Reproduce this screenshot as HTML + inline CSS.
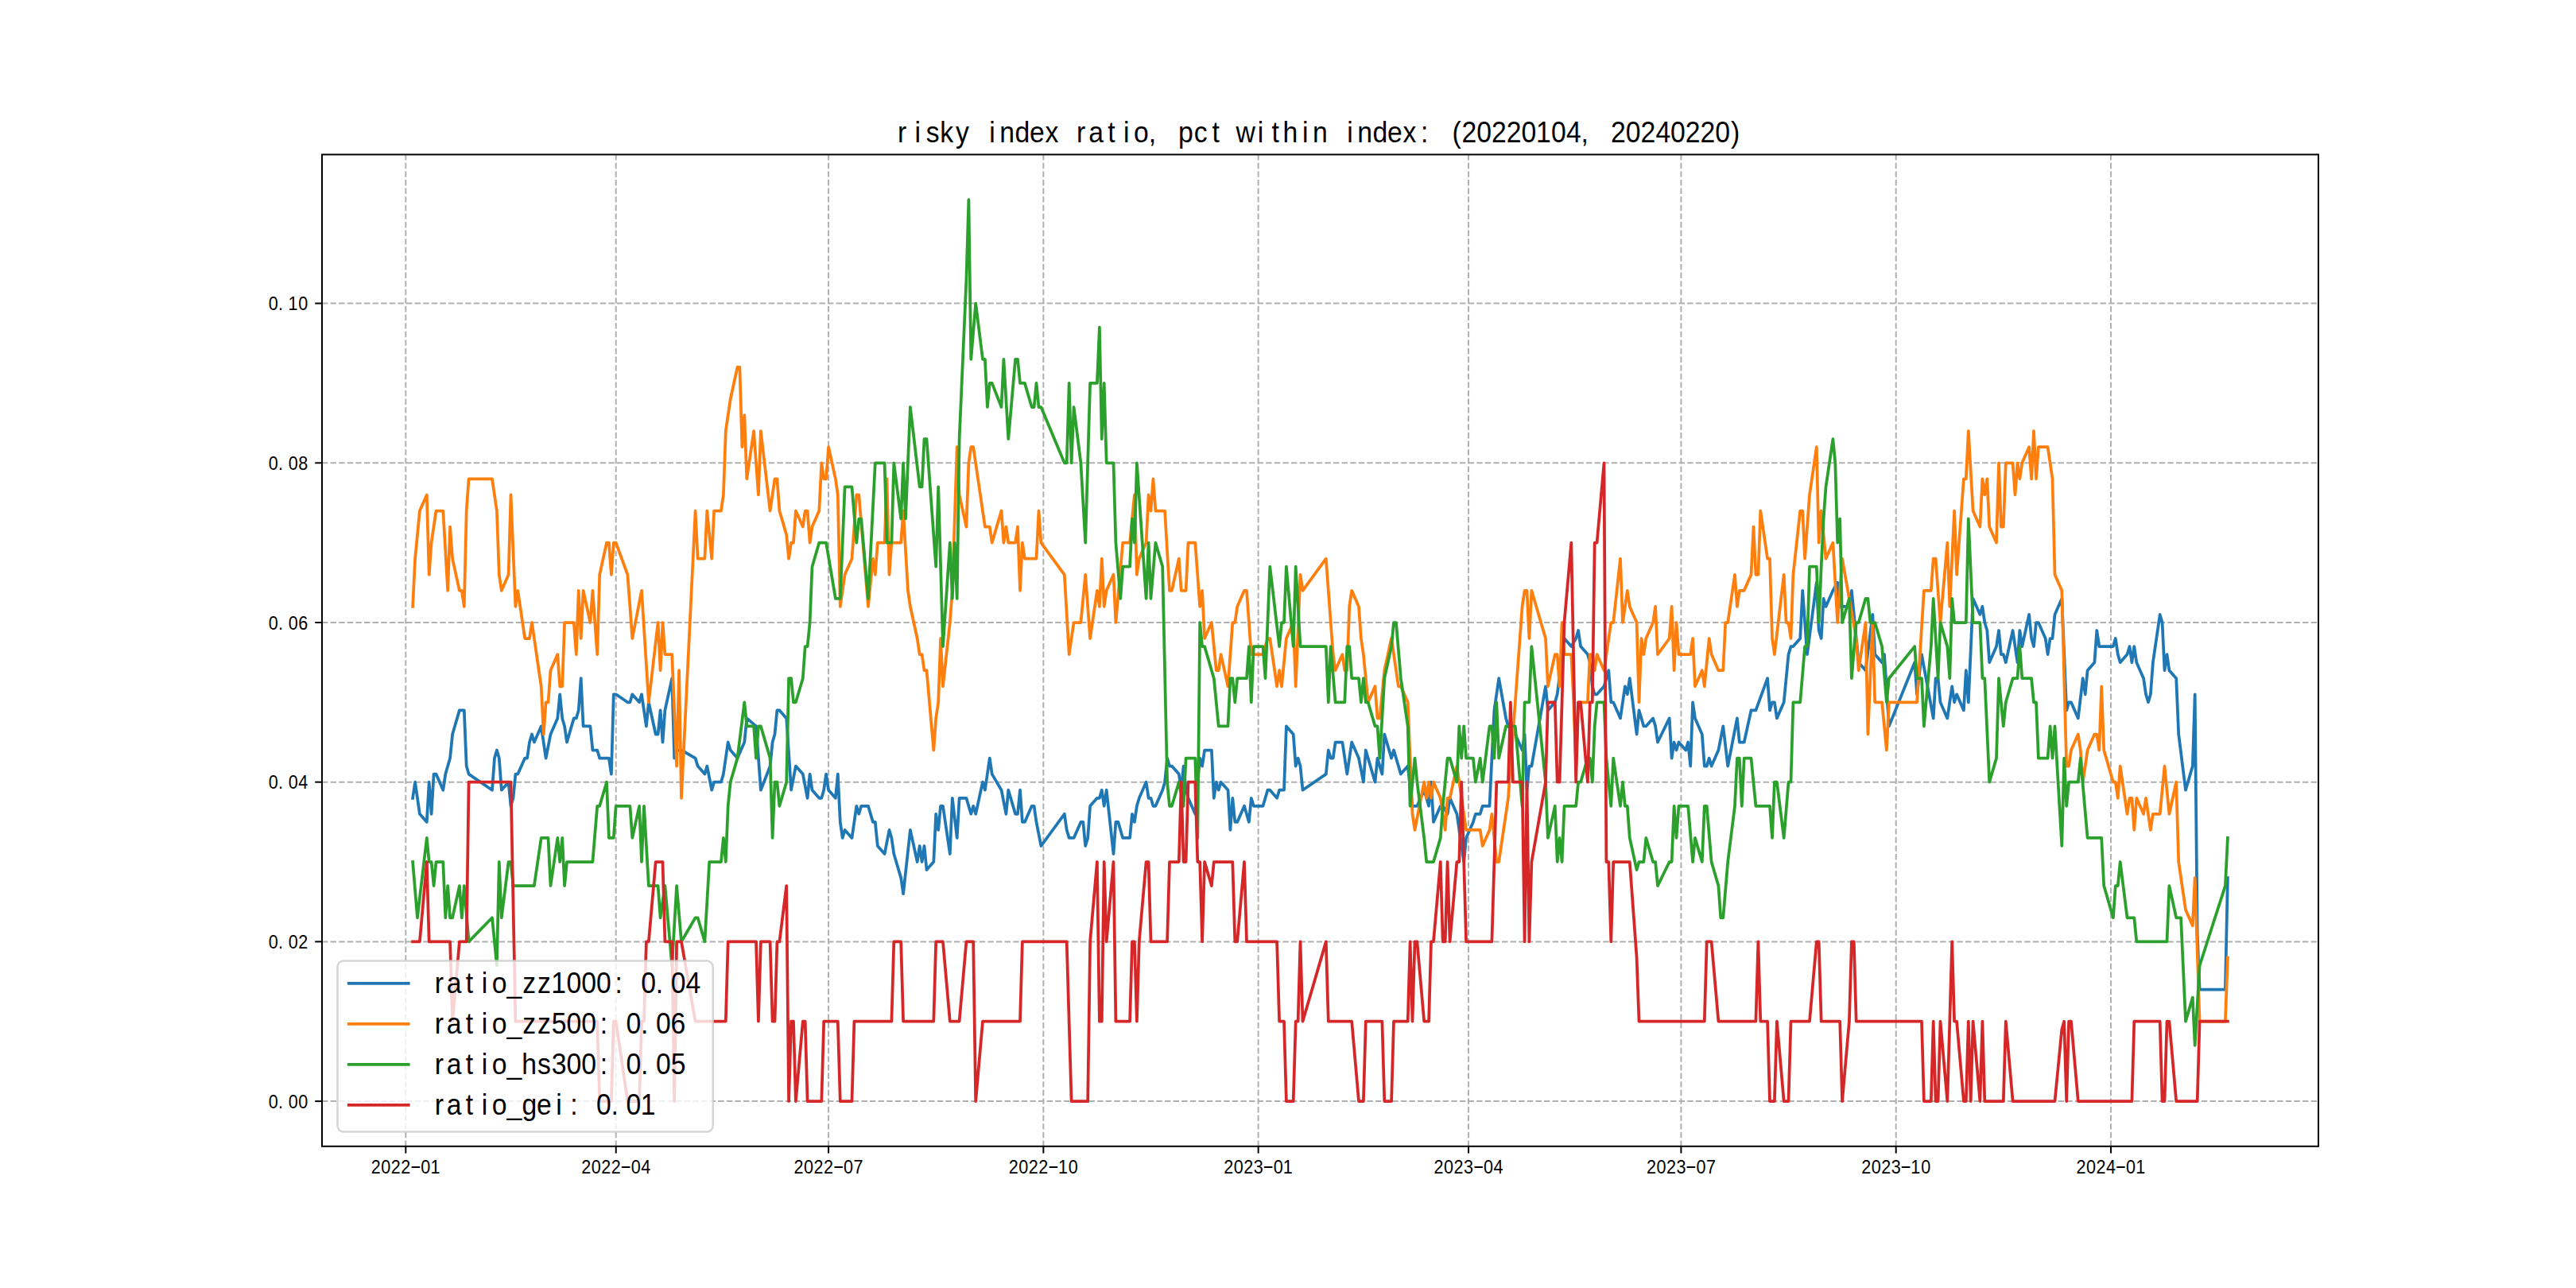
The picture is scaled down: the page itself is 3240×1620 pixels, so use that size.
<!DOCTYPE html>
<html lang="en"><head><meta charset="utf-8"><title>risky index ratio</title>
<style>html,body{margin:0;padding:0;background:#fff}body{width:3240px;height:1620px;overflow:hidden}svg{display:block;font-family:'Liberation Sans', 'WenQuanYi Zen Hei', sans-serif}</style></head><body>
<svg width="3240" height="1620" viewBox="0 0 3240 1620">
<rect x="0" y="0" width="3240" height="1620" fill="#fff"/>
<clipPath id="ax"><rect x="405.0" y="194.4" width="2511.0" height="1247.4"/></clipPath>
<g stroke="#b0b0b0" stroke-width="2" stroke-dasharray="7.4 3.2" fill="none">
<path d="M510.32 1441.80V194.40"/>
<path d="M774.73 1441.80V194.40"/>
<path d="M1042.08 1441.80V194.40"/>
<path d="M1312.36 1441.80V194.40"/>
<path d="M1582.65 1441.80V194.40"/>
<path d="M1847.05 1441.80V194.40"/>
<path d="M2114.40 1441.80V194.40"/>
<path d="M2384.69 1441.80V194.40"/>
<path d="M2654.97 1441.80V194.40"/>
<path d="M405.00 1385.10H2916.00"/>
<path d="M405.00 1184.39H2916.00"/>
<path d="M405.00 983.68H2916.00"/>
<path d="M405.00 782.98H2916.00"/>
<path d="M405.00 582.27H2916.00"/>
<path d="M405.00 381.56H2916.00"/>
</g>
<g clip-path="url(#ax)" fill="none" stroke-width="3.75" stroke-linejoin="round" stroke-linecap="square">
<polyline stroke="#1f77b4" points="519.1,1003.8 522.1,983.7 527.9,1023.8 536.8,1033.9 539.7,983.7 542.6,1023.8 545.6,973.6 548.5,973.6 557.3,993.7 560.3,973.6 566.1,953.6 569.1,923.5 577.9,893.4 583.8,893.4 586.7,963.6 589.6,973.6 619.0,993.7 622.0,953.6 624.9,943.5 627.8,953.6 630.8,993.7 639.6,983.7 642.5,1013.8 645.5,1003.8 648.4,973.6 651.3,973.6 660.2,953.6 663.1,953.6 666.0,933.5 669.0,923.5 671.9,933.5 680.7,913.4 686.6,953.6 692.5,923.5 701.3,903.4 704.2,873.3 707.2,903.4 710.1,913.4 713.0,933.5 721.8,903.4 724.8,903.4 727.7,893.4 730.7,853.2 733.6,913.4 742.4,913.4 745.4,943.5 751.2,943.5 754.2,953.6 765.9,953.6 768.9,973.6 771.8,873.3 774.7,873.3 789.4,883.3 792.4,883.3 795.3,873.3 804.1,883.3 807.0,873.3 812.9,913.4 815.9,883.3 824.7,923.5 827.6,923.5 830.6,893.4 833.5,933.5 836.4,893.4 845.2,853.2 848.2,953.6 851.1,943.5 857.0,943.5 874.6,953.6 877.6,963.6 886.4,973.6 889.3,963.6 895.2,993.7 898.1,983.7 906.9,983.7 909.9,973.6 915.7,933.5 918.7,943.5 927.5,953.6 936.3,933.5 939.3,903.4 951.0,913.4 956.9,993.7 968.6,963.6 971.6,933.5 974.5,923.5 977.4,893.4 980.4,893.4 989.2,903.4 995.1,993.7 1000.9,963.6 1009.8,973.6 1015.6,1003.8 1018.6,973.6 1021.5,993.7 1030.3,1003.8 1033.3,1003.8 1036.2,993.7 1039.1,973.6 1042.1,993.7 1050.9,1003.8 1053.8,973.6 1056.8,1033.9 1059.7,1053.9 1062.6,1043.9 1071.5,1053.9 1077.3,1013.8 1080.3,1023.8 1083.2,1013.8 1092.0,1013.8 1097.9,1033.9 1100.8,1033.9 1103.8,1064.0 1112.6,1074.0 1118.5,1043.9 1121.4,1053.9 1124.3,1074.0 1133.2,1104.1 1136.1,1124.2 1144.9,1043.9 1153.7,1084.0 1156.7,1064.0 1159.6,1084.0 1162.5,1064.0 1165.5,1094.1 1174.3,1084.0 1177.2,1023.8 1180.2,1043.9 1183.1,1013.8 1186.0,1013.8 1194.8,1074.0 1197.8,1003.8 1203.7,1053.9 1206.6,1003.8 1215.4,1003.8 1221.3,1023.8 1224.2,1013.8 1227.2,1023.8 1236.0,983.7 1238.9,993.7 1244.8,953.6 1247.7,973.6 1259.5,993.7 1265.4,1023.8 1268.3,993.7 1277.1,1023.8 1280.0,1023.8 1283.0,993.7 1285.9,1033.9 1288.9,1033.9 1297.7,1013.8 1300.6,1013.8 1303.5,1033.9 1309.4,1064.0 1338.8,1023.8 1341.7,1043.9 1344.7,1053.9 1350.6,1053.9 1359.4,1033.9 1362.3,1033.9 1365.2,1064.0 1368.2,1053.9 1371.1,1013.8 1379.9,1003.8 1382.9,1003.8 1385.8,993.7 1388.7,1013.8 1391.7,993.7 1400.5,1074.0 1403.4,1033.9 1406.4,1033.9 1412.2,1053.9 1421.1,1053.9 1424.0,1023.8 1426.9,1033.9 1429.9,1013.8 1432.8,1003.8 1441.6,983.7 1444.6,1003.8 1447.5,1003.8 1450.4,1013.8 1453.4,1013.8 1462.2,993.7 1465.1,983.7 1468.1,953.6 1471.0,963.6 1473.9,963.6 1482.8,973.6 1485.7,993.7 1488.6,963.6 1491.6,993.7 1494.5,1003.8 1503.3,1023.8 1506.3,983.7 1509.2,953.6 1512.1,963.6 1515.1,943.5 1523.9,943.5 1526.8,1003.8 1529.8,983.7 1532.7,993.7 1535.6,983.7 1544.5,993.7 1547.4,1043.9 1550.3,1003.8 1553.3,1033.9 1556.2,1033.9 1565.0,1013.8 1570.9,1033.9 1573.8,1003.8 1576.8,1013.8 1588.5,1013.8 1594.4,993.7 1597.3,993.7 1606.1,1003.8 1609.1,993.7 1615.0,993.7 1617.9,913.4 1626.7,923.5 1629.7,963.6 1632.6,953.6 1635.5,963.6 1638.5,993.7 1667.8,973.6 1670.8,943.5 1673.7,953.6 1676.7,953.6 1679.6,933.5 1688.4,933.5 1694.3,973.6 1700.2,933.5 1709.0,953.6 1714.9,983.7 1717.8,943.5 1729.5,983.7 1732.5,953.6 1738.4,973.6 1741.3,923.5 1750.1,953.6 1753.0,943.5 1761.9,973.6 1770.7,963.6 1776.5,1013.8 1782.4,1013.8 1791.2,993.7 1797.1,1013.8 1800.0,983.7 1803.0,1033.9 1811.8,1013.8 1814.7,1013.8 1820.6,1023.8 1823.6,1003.8 1832.4,1023.8 1841.2,1084.0 1844.1,1053.9 1852.9,1033.9 1855.9,1023.8 1861.7,1023.8 1864.7,1013.8 1873.5,1013.8 1876.4,953.6 1879.4,893.4 1882.3,873.3 1885.2,853.2 1894.1,903.4 1897.0,913.4 1905.8,923.5 1914.6,943.5 1917.6,923.5 1920.5,993.7 1923.4,963.6 1926.4,963.6 1944.0,863.3 1946.9,893.4 1955.8,883.3 1958.7,873.3 1967.5,803.0 1976.3,813.1 1982.2,803.0 1985.1,793.0 1988.1,813.1 1996.9,823.1 1999.8,833.2 2002.8,863.3 2005.7,873.3 2008.6,873.3 2017.5,863.3 2020.4,853.2 2023.3,843.2 2026.3,883.3 2029.2,883.3 2038.0,903.4 2043.9,863.3 2046.8,873.3 2049.8,853.2 2058.6,923.5 2061.5,893.4 2067.4,913.4 2070.3,913.4 2079.1,903.4 2082.1,913.4 2085.0,933.5 2099.7,903.4 2102.6,953.6 2105.6,933.5 2108.5,943.5 2111.5,933.5 2120.3,943.5 2123.2,933.5 2126.2,963.6 2129.1,883.3 2132.0,903.4 2140.8,923.5 2143.8,963.6 2146.7,963.6 2149.7,953.6 2152.6,963.6 2161.4,943.5 2167.3,913.4 2173.2,963.6 2184.9,903.4 2187.8,933.5 2193.7,933.5 2202.5,893.4 2208.4,893.4 2223.1,853.2 2226.0,893.4 2229.0,883.3 2231.9,883.3 2234.9,903.4 2243.7,883.3 2249.5,823.1 2252.5,813.1 2255.4,813.1 2264.2,803.0 2267.2,742.8 2273.0,823.1 2284.8,732.8 2287.7,793.0 2290.7,803.0 2293.6,752.9 2296.5,762.9 2305.4,742.8 2311.2,732.8 2314.2,762.9 2325.9,762.9 2328.9,742.8 2337.7,833.2 2346.5,843.2 2355.3,772.9 2358.2,823.1 2367.1,833.2 2370.0,823.1 2375.9,913.4 2408.2,833.2 2411.1,873.3 2417.0,823.1 2431.7,903.4 2434.6,853.2 2437.6,853.2 2440.5,883.3 2449.3,903.4 2455.2,863.3 2458.1,883.3 2461.1,873.3 2469.9,893.4 2472.8,843.2 2475.8,883.3 2481.6,752.9 2490.4,772.9 2493.4,762.9 2496.3,783.0 2499.3,793.0 2502.2,833.2 2511.0,813.1 2514.0,793.0 2516.9,823.1 2519.8,823.1 2522.8,833.2 2531.6,793.0 2537.5,833.2 2540.4,793.0 2543.3,813.1 2552.1,772.9 2555.1,803.0 2558.0,813.1 2561.0,783.0 2563.9,783.0 2572.7,803.0 2575.6,823.1 2578.6,803.0 2581.5,803.0 2584.5,772.9 2593.3,752.9 2599.2,893.4 2602.1,883.3 2605.0,883.3 2613.8,903.4 2619.7,853.2 2622.7,873.3 2625.6,843.2 2634.4,833.2 2637.3,793.0 2640.3,813.1 2657.9,813.1 2660.8,803.0 2663.8,823.1 2666.7,833.2 2675.5,823.1 2678.5,813.1 2681.4,833.2 2684.3,813.1 2687.3,833.2 2696.1,853.2 2699.0,873.3 2702.0,883.3 2704.9,873.3 2707.9,833.2 2716.7,772.9 2719.6,783.0 2722.5,843.2 2725.5,823.1 2728.4,843.2 2737.2,853.2 2740.2,923.5 2749.0,993.7 2757.8,963.6 2760.7,873.3 2763.7,1174.4 2766.6,1244.6 2798.9,1244.6 2801.9,1104.1"/>
<polyline stroke="#ff7f0e" points="519.1,762.9 522.1,702.7 527.9,642.5 536.8,622.4 539.7,722.8 542.6,682.6 548.5,642.5 557.3,642.5 563.2,742.8 566.1,662.6 569.1,702.7 577.9,742.8 580.8,742.8 583.8,762.9 586.7,642.5 589.6,602.3 619.0,602.3 624.9,642.5 627.8,722.8 630.8,742.8 639.6,722.8 642.5,622.4 648.4,762.9 651.3,742.8 660.2,803.0 666.0,803.0 669.0,783.0 680.7,863.3 683.7,923.5 686.6,883.3 689.5,883.3 692.5,843.2 701.3,823.1 704.2,863.3 707.2,863.3 710.1,783.0 721.8,783.0 724.8,823.1 727.7,742.8 730.7,803.0 733.6,742.8 742.4,783.0 745.4,742.8 751.2,823.1 754.2,722.8 763.0,682.6 765.9,682.6 768.9,722.8 771.8,682.6 774.7,682.6 789.4,722.8 795.3,803.0 807.0,742.8 815.9,883.3 827.6,783.0 830.6,843.2 833.5,783.0 836.4,823.1 845.2,823.1 851.1,963.6 854.1,843.2 857.0,1003.8 874.6,642.5 877.6,702.7 886.4,702.7 889.3,642.5 895.2,702.7 898.1,642.5 906.9,642.5 909.9,622.4 912.8,542.1 918.7,502.0 927.5,461.8 930.4,461.8 933.4,562.2 936.3,522.1 939.3,602.3 948.1,542.1 953.9,622.4 956.9,542.1 968.6,642.5 974.5,602.3 977.4,602.3 980.4,642.5 989.2,672.6 992.1,702.7 995.1,682.6 998.0,682.6 1000.9,642.5 1009.8,662.6 1012.7,642.5 1015.6,642.5 1018.6,682.6 1021.5,662.6 1030.3,642.5 1033.3,582.3 1036.2,602.3 1039.1,602.3 1042.1,562.2 1050.9,602.3 1053.8,622.4 1056.8,762.9 1062.6,722.8 1071.5,702.7 1077.3,622.4 1080.3,622.4 1092.0,762.9 1097.9,702.7 1100.8,722.8 1103.8,682.6 1112.6,682.6 1115.5,602.3 1118.5,722.8 1121.4,682.6 1133.2,682.6 1136.1,642.5 1142.0,742.8 1144.9,762.9 1153.7,803.0 1156.7,823.1 1159.6,823.1 1162.5,843.2 1165.5,843.2 1174.3,943.5 1177.2,903.4 1180.2,883.3 1183.1,803.0 1186.0,863.3 1194.8,783.0 1197.8,742.8 1203.7,562.2 1206.6,622.4 1215.4,662.6 1218.4,582.3 1221.3,562.2 1224.2,562.2 1238.9,662.6 1244.8,662.6 1247.7,682.6 1259.5,642.5 1262.4,682.6 1265.4,662.6 1268.3,682.6 1277.1,682.6 1280.0,662.6 1283.0,742.8 1285.9,682.6 1288.9,702.7 1303.5,702.7 1306.5,642.5 1309.4,682.6 1338.8,722.8 1344.7,823.1 1350.6,783.0 1359.4,783.0 1365.2,722.8 1371.1,803.0 1379.9,742.8 1382.9,762.9 1385.8,702.7 1388.7,762.9 1391.7,742.8 1400.5,722.8 1403.4,783.0 1412.2,682.6 1421.1,682.6 1426.9,622.4 1429.9,722.8 1432.8,702.7 1441.6,682.6 1444.6,622.4 1447.5,642.5 1450.4,602.3 1453.4,642.5 1465.1,642.5 1471.0,742.8 1473.9,742.8 1482.8,702.7 1485.7,742.8 1491.6,742.8 1494.5,682.6 1503.3,682.6 1509.2,762.9 1512.1,742.8 1515.1,803.0 1523.9,783.0 1529.8,843.2 1532.7,843.2 1535.6,823.1 1544.5,863.3 1550.3,783.0 1553.3,783.0 1556.2,762.9 1565.0,742.8 1568.0,742.8 1573.8,823.1 1588.5,823.1 1594.4,803.0 1597.3,803.0 1606.1,863.3 1609.1,843.2 1612.0,863.3 1617.9,803.0 1626.7,783.0 1629.7,863.3 1635.5,722.8 1638.5,742.8 1667.8,702.7 1670.8,742.8 1676.7,823.1 1679.6,843.2 1688.4,823.1 1691.3,843.2 1694.3,843.2 1697.2,762.9 1700.2,742.8 1709.0,762.9 1711.9,803.0 1714.9,823.1 1720.7,883.3 1729.5,863.3 1732.5,903.4 1735.4,903.4 1741.3,843.2 1750.1,803.0 1758.9,863.3 1761.9,863.3 1770.7,883.3 1776.5,1023.8 1779.5,1043.9 1791.2,983.7 1794.2,1003.8 1797.1,983.7 1800.0,1003.8 1803.0,983.7 1811.8,1003.8 1817.7,1043.9 1820.6,1003.8 1823.6,1003.8 1832.4,963.6 1841.2,1023.8 1844.1,1043.9 1861.7,1043.9 1864.7,1064.0 1873.5,1043.9 1876.4,1023.8 1882.3,1084.0 1885.2,1084.0 1894.1,1023.8 1897.0,1003.8 1899.9,963.6 1902.9,923.5 1905.8,883.3 1914.6,762.9 1917.6,742.8 1920.5,742.8 1923.4,803.0 1926.4,742.8 1944.0,803.0 1946.9,863.3 1955.8,823.1 1958.7,823.1 1961.6,863.3 1964.6,783.0 1967.5,823.1 1976.3,823.1 1979.3,883.3 1982.2,963.6 1985.1,883.3 1996.9,883.3 1999.8,823.1 2002.8,823.1 2005.7,843.2 2008.6,823.1 2017.5,843.2 2026.3,783.0 2029.2,783.0 2038.0,702.7 2041.0,783.0 2046.8,742.8 2049.8,762.9 2058.6,783.0 2061.5,883.3 2064.5,803.0 2067.4,823.1 2070.3,803.0 2079.1,783.0 2082.1,762.9 2085.0,823.1 2099.7,803.0 2102.6,762.9 2105.6,843.2 2108.5,783.0 2111.5,823.1 2126.2,823.1 2129.1,803.0 2132.0,863.3 2140.8,843.2 2143.8,863.3 2149.7,803.0 2152.6,823.1 2161.4,843.2 2167.3,843.2 2170.2,783.0 2173.2,783.0 2182.0,722.8 2184.9,762.9 2187.8,742.8 2193.7,742.8 2202.5,722.8 2205.5,662.6 2208.4,722.8 2211.4,722.8 2214.3,642.5 2223.1,702.7 2226.0,702.7 2229.0,803.0 2231.9,823.1 2243.7,722.8 2246.6,783.0 2249.5,783.0 2252.5,803.0 2255.4,722.8 2264.2,642.5 2267.2,642.5 2270.1,702.7 2276.0,622.4 2284.8,562.2 2287.7,682.6 2290.7,642.5 2296.5,702.7 2305.4,682.6 2311.2,783.0 2317.1,702.7 2334.7,803.0 2337.7,843.2 2346.5,783.0 2349.4,923.5 2355.3,783.0 2358.2,883.3 2367.1,883.3 2372.9,943.5 2375.9,883.3 2411.1,883.3 2419.9,742.8 2428.8,742.8 2431.7,702.7 2434.6,702.7 2440.5,783.0 2449.3,682.6 2452.3,762.9 2458.1,642.5 2461.1,722.8 2469.9,602.3 2472.8,602.3 2475.8,542.1 2481.6,642.5 2490.4,662.6 2493.4,602.3 2496.3,622.4 2499.3,602.3 2502.2,662.6 2511.0,682.6 2514.0,582.3 2516.9,662.6 2519.8,662.6 2522.8,582.3 2531.6,582.3 2534.5,622.4 2537.5,582.3 2540.4,602.3 2543.3,582.3 2552.1,562.2 2555.1,602.3 2558.0,542.1 2561.0,602.3 2563.9,562.2 2575.6,562.2 2581.5,602.3 2584.5,722.8 2593.3,742.8 2599.2,963.6 2602.1,963.6 2605.0,943.5 2613.8,923.5 2616.8,943.5 2619.7,983.7 2622.7,963.6 2625.6,943.5 2634.4,923.5 2637.3,923.5 2640.3,943.5 2643.2,863.3 2646.2,943.5 2657.9,983.7 2660.8,983.7 2663.8,1003.8 2666.7,963.6 2675.5,1023.8 2678.5,1003.8 2681.4,1003.8 2684.3,1043.9 2687.3,1003.8 2696.1,1023.8 2699.0,1003.8 2704.9,1043.9 2707.9,1023.8 2716.7,1023.8 2722.5,963.6 2728.4,1023.8 2737.2,983.7 2740.2,1084.0 2749.0,1144.3 2757.8,1164.3 2760.7,1104.1 2766.6,1284.7 2798.9,1284.7 2801.9,1204.5"/>
<polyline stroke="#2ca02c" points="519.1,1084.0 525.0,1154.3 536.8,1053.9 539.7,1084.0 542.6,1084.0 545.6,1114.1 548.5,1084.0 557.3,1084.0 560.3,1154.3 563.2,1114.1 566.1,1154.3 569.1,1154.3 577.9,1114.1 580.8,1154.3 583.8,1114.1 589.6,1184.4 619.0,1154.3 624.9,1214.5 627.8,1084.0 630.8,1154.3 639.6,1084.0 642.5,1084.0 645.5,1114.1 671.9,1114.1 680.7,1053.9 689.5,1053.9 692.5,1114.1 701.3,1053.9 704.2,1084.0 707.2,1053.9 710.1,1114.1 713.0,1084.0 745.4,1084.0 751.2,1013.8 754.2,1013.8 763.0,983.7 765.9,1053.9 771.8,1053.9 774.7,1013.8 792.4,1013.8 795.3,1053.9 804.1,1013.8 807.0,1084.0 810.0,1013.8 815.9,1114.1 827.6,1114.1 830.6,1154.3 836.4,1114.1 845.2,1214.5 851.1,1114.1 857.0,1184.4 874.6,1154.3 877.6,1154.3 886.4,1184.4 892.2,1084.0 906.9,1084.0 909.9,1053.9 912.8,1084.0 915.7,1013.8 918.7,983.7 927.5,953.6 936.3,883.3 939.3,913.4 948.1,913.4 951.0,953.6 953.9,913.4 956.9,913.4 968.6,953.6 971.6,1053.9 974.5,983.7 977.4,983.7 980.4,1013.8 989.2,983.7 992.1,853.2 995.1,853.2 998.0,883.3 1000.9,883.3 1009.8,853.2 1012.7,813.1 1015.6,813.1 1018.6,783.0 1021.5,712.7 1030.3,682.6 1039.1,682.6 1050.9,752.9 1056.8,752.9 1062.6,612.4 1071.5,612.4 1077.3,682.6 1080.3,652.5 1083.2,652.5 1092.0,752.9 1100.8,582.3 1112.6,582.3 1115.5,682.6 1121.4,682.6 1124.3,582.3 1133.2,652.5 1136.1,582.3 1139.0,652.5 1144.9,512.0 1156.7,612.4 1159.6,612.4 1162.5,552.2 1165.5,552.2 1177.2,712.7 1180.2,612.4 1186.0,813.1 1194.8,682.6 1197.8,752.9 1200.7,682.6 1203.7,752.9 1206.6,552.2 1215.4,351.5 1218.4,251.1 1221.3,451.8 1227.2,381.6 1236.0,451.8 1238.9,451.8 1241.9,512.0 1244.8,481.9 1247.7,481.9 1259.5,512.0 1262.4,451.8 1268.3,552.2 1277.1,451.8 1280.0,451.8 1283.0,481.9 1288.9,481.9 1297.7,512.0 1300.6,512.0 1303.5,481.9 1306.5,512.0 1309.4,512.0 1338.8,582.3 1341.7,582.3 1344.7,481.9 1347.6,582.3 1350.6,512.0 1359.4,582.3 1365.2,682.6 1371.1,481.9 1379.9,481.9 1382.9,411.7 1385.8,552.2 1388.7,481.9 1391.7,582.3 1400.5,582.3 1403.4,682.6 1409.3,752.9 1412.2,712.7 1421.1,712.7 1424.0,652.5 1426.9,682.6 1429.9,582.3 1441.6,752.9 1444.6,682.6 1447.5,752.9 1453.4,682.6 1462.2,712.7 1468.1,983.7 1471.0,1013.8 1473.9,1013.8 1482.8,983.7 1488.6,1013.8 1491.6,953.6 1503.3,953.6 1506.3,1053.9 1509.2,783.0 1512.1,813.1 1515.1,813.1 1526.8,853.2 1532.7,913.4 1544.5,913.4 1547.4,853.2 1550.3,853.2 1553.3,883.3 1556.2,853.2 1568.0,853.2 1570.9,813.1 1573.8,883.3 1576.8,813.1 1588.5,813.1 1591.5,853.2 1597.3,712.7 1609.1,813.1 1612.0,783.0 1615.0,783.0 1617.9,712.7 1626.7,813.1 1629.7,712.7 1635.5,813.1 1667.8,813.1 1670.8,883.3 1673.7,813.1 1679.6,883.3 1691.3,883.3 1694.3,813.1 1697.2,813.1 1700.2,853.2 1709.0,853.2 1711.9,883.3 1714.9,853.2 1717.8,883.3 1720.7,883.3 1729.5,913.4 1732.5,913.4 1735.4,953.6 1741.3,853.2 1750.1,813.1 1753.0,783.0 1756.0,783.0 1761.9,853.2 1770.7,913.4 1773.6,1013.8 1779.5,953.6 1782.4,983.7 1791.2,1053.9 1794.2,1084.0 1803.0,1084.0 1811.8,1053.9 1814.7,1013.8 1817.7,983.7 1820.6,953.6 1823.6,953.6 1832.4,983.7 1835.3,913.4 1838.2,953.6 1841.2,913.4 1844.1,953.6 1852.9,953.6 1855.9,983.7 1861.7,953.6 1864.7,983.7 1873.5,913.4 1876.4,913.4 1879.4,953.6 1882.3,883.3 1885.2,953.6 1894.1,913.4 1905.8,913.4 1914.6,1013.8 1917.6,883.3 1923.4,883.3 1926.4,813.1 1944.0,983.7 1946.9,1053.9 1955.8,1013.8 1958.7,1084.0 1961.6,1053.9 1964.6,1084.0 1967.5,1013.8 1982.2,1013.8 1985.1,983.7 1988.1,983.7 1996.9,953.6 1999.8,953.6 2002.8,983.7 2005.7,913.4 2008.6,883.3 2017.5,883.3 2020.4,953.6 2023.3,983.7 2026.3,1013.8 2029.2,953.6 2038.0,1013.8 2041.0,983.7 2043.9,1013.8 2046.8,1013.8 2049.8,1053.9 2058.6,1094.1 2061.5,1084.0 2067.4,1084.0 2070.3,1053.9 2079.1,1084.0 2082.1,1084.0 2085.0,1114.1 2099.7,1084.0 2102.6,1084.0 2105.6,1013.8 2108.5,1053.9 2111.5,1013.8 2123.2,1013.8 2129.1,1084.0 2132.0,1053.9 2140.8,1084.0 2143.8,1013.8 2146.7,1013.8 2152.6,1084.0 2161.4,1114.1 2164.3,1154.3 2167.3,1154.3 2173.2,1084.0 2182.0,1013.8 2184.9,953.6 2187.8,953.6 2190.8,1013.8 2193.7,953.6 2202.5,953.6 2208.4,1013.8 2226.0,1013.8 2229.0,1053.9 2231.9,983.7 2234.9,983.7 2243.7,1053.9 2249.5,983.7 2252.5,983.7 2255.4,883.3 2264.2,883.3 2270.1,813.1 2273.0,813.1 2276.0,712.7 2284.8,712.7 2287.7,783.0 2290.7,712.7 2293.6,652.5 2296.5,612.4 2305.4,552.2 2308.3,582.3 2311.2,682.6 2314.2,652.5 2317.1,783.0 2325.9,752.9 2328.9,853.2 2334.7,783.0 2337.7,783.0 2346.5,752.9 2349.4,752.9 2352.4,783.0 2358.2,783.0 2367.1,813.1 2372.9,883.3 2375.9,853.2 2408.2,813.1 2411.1,853.2 2417.0,853.2 2419.9,913.4 2428.8,813.1 2431.7,752.9 2437.6,853.2 2440.5,783.0 2449.3,813.1 2452.3,853.2 2455.2,752.9 2458.1,783.0 2472.8,783.0 2475.8,652.5 2481.6,783.0 2490.4,783.0 2493.4,853.2 2496.3,853.2 2502.2,983.7 2511.0,953.6 2514.0,853.2 2519.8,913.4 2522.8,883.3 2531.6,853.2 2537.5,853.2 2540.4,813.1 2543.3,853.2 2555.1,853.2 2558.0,883.3 2561.0,883.3 2563.9,953.6 2575.6,953.6 2578.6,913.4 2581.5,953.6 2584.5,913.4 2593.3,1064.0 2596.2,953.6 2599.2,1013.8 2602.1,983.7 2613.8,983.7 2616.8,953.6 2625.6,1053.9 2643.2,1053.9 2646.2,1114.1 2657.9,1154.3 2660.8,1114.1 2663.8,1114.1 2666.7,1084.0 2675.5,1154.3 2684.3,1154.3 2687.3,1184.4 2725.5,1184.4 2728.4,1114.1 2737.2,1154.3 2743.1,1154.3 2749.0,1284.7 2757.8,1254.6 2760.7,1314.9 2766.6,1214.5 2798.9,1114.1 2801.9,1053.9"/>
<polyline stroke="#d62728" points="519.1,1184.4 527.9,1184.4 536.8,1084.0 539.7,1184.4 566.1,1184.4 569.1,1284.7 577.9,1184.4 586.7,1184.4 589.6,983.7 642.5,983.7 648.4,1284.7 751.2,1284.7 754.2,1385.1 768.9,1385.1 771.8,1284.7 774.7,1284.7 789.4,1385.1 804.1,1385.1 807.0,1284.7 810.0,1284.7 812.9,1184.4 815.9,1184.4 824.7,1084.0 833.5,1084.0 836.4,1184.4 845.2,1184.4 848.2,1385.1 851.1,1184.4 857.0,1184.4 874.6,1284.7 912.8,1284.7 915.7,1184.4 951.0,1184.4 953.9,1284.7 956.9,1184.4 968.6,1184.4 971.6,1284.7 974.5,1284.7 977.4,1184.4 980.4,1184.4 989.2,1114.1 992.1,1385.1 995.1,1284.7 998.0,1284.7 1000.9,1385.1 1009.8,1284.7 1012.7,1284.7 1015.6,1385.1 1033.3,1385.1 1036.2,1284.7 1053.8,1284.7 1056.8,1385.1 1071.5,1385.1 1074.4,1284.7 1121.4,1284.7 1124.3,1184.4 1133.2,1184.4 1136.1,1284.7 1174.3,1284.7 1177.2,1184.4 1186.0,1184.4 1194.8,1284.7 1206.6,1284.7 1215.4,1184.4 1224.2,1184.4 1227.2,1385.1 1236.0,1284.7 1283.0,1284.7 1285.9,1184.4 1341.7,1184.4 1347.6,1385.1 1368.2,1385.1 1371.1,1184.4 1379.9,1084.0 1382.9,1284.7 1385.8,1284.7 1388.7,1084.0 1391.7,1184.4 1400.5,1084.0 1403.4,1284.7 1421.1,1284.7 1424.0,1184.4 1426.9,1184.4 1429.9,1284.7 1432.8,1184.4 1441.6,1084.0 1444.6,1084.0 1447.5,1184.4 1468.1,1184.4 1471.0,1084.0 1482.8,1084.0 1485.7,983.7 1488.6,1084.0 1491.6,1084.0 1494.5,983.7 1503.3,983.7 1506.3,1084.0 1509.2,1084.0 1512.1,1184.4 1515.1,1084.0 1523.9,1114.1 1526.8,1084.0 1550.3,1084.0 1553.3,1184.4 1556.2,1184.4 1565.0,1084.0 1568.0,1184.4 1606.1,1184.4 1609.1,1284.7 1615.0,1284.7 1617.9,1385.1 1626.7,1385.1 1629.7,1284.7 1632.6,1284.7 1635.5,1184.4 1638.5,1284.7 1667.8,1184.4 1670.8,1284.7 1700.2,1284.7 1709.0,1385.1 1714.9,1385.1 1717.8,1284.7 1738.4,1284.7 1741.3,1385.1 1750.1,1385.1 1753.0,1284.7 1770.7,1284.7 1773.6,1184.4 1776.5,1284.7 1779.5,1184.4 1782.4,1184.4 1791.2,1284.7 1797.1,1284.7 1800.0,1184.4 1803.0,1184.4 1811.8,1084.0 1814.7,1184.4 1817.7,1184.4 1820.6,1084.0 1823.6,1184.4 1832.4,1084.0 1835.3,1084.0 1838.2,983.7 1841.2,1084.0 1844.1,1184.4 1876.4,1184.4 1879.4,1084.0 1882.3,983.7 1897.0,983.7 1899.9,883.3 1902.9,983.7 1914.6,983.7 1917.6,1184.4 1920.5,983.7 1923.4,1184.4 1926.4,1084.0 1944.0,983.7 1946.9,883.3 1955.8,883.3 1958.7,983.7 1961.6,983.7 1964.6,883.3 1967.5,783.0 1976.3,682.6 1982.2,983.7 1985.1,883.3 1988.1,883.3 1996.9,983.7 1999.8,883.3 2002.8,883.3 2005.7,682.6 2008.6,682.6 2017.5,582.3 2020.4,1084.0 2023.3,1084.0 2026.3,1184.4 2029.2,1084.0 2049.8,1084.0 2058.6,1204.5 2061.5,1284.7 2143.8,1284.7 2146.7,1184.4 2152.6,1184.4 2161.4,1284.7 2208.4,1284.7 2211.4,1184.4 2214.3,1284.7 2223.1,1284.7 2226.0,1385.1 2231.9,1385.1 2234.9,1284.7 2243.7,1385.1 2249.5,1385.1 2252.5,1284.7 2276.0,1284.7 2284.8,1184.4 2287.7,1184.4 2290.7,1284.7 2314.2,1284.7 2317.1,1385.1 2325.9,1284.7 2328.9,1184.4 2331.8,1184.4 2334.7,1284.7 2417.0,1284.7 2419.9,1385.1 2428.8,1385.1 2431.7,1284.7 2434.6,1385.1 2437.6,1385.1 2440.5,1284.7 2449.3,1385.1 2452.3,1284.7 2455.2,1184.4 2458.1,1284.7 2461.1,1284.7 2469.9,1385.1 2472.8,1385.1 2475.8,1284.7 2478.7,1385.1 2481.6,1284.7 2490.4,1385.1 2493.4,1284.7 2496.3,1385.1 2519.8,1385.1 2522.8,1284.7 2531.6,1385.1 2584.5,1385.1 2593.3,1294.8 2596.2,1284.7 2599.2,1385.1 2602.1,1284.7 2605.0,1284.7 2613.8,1385.1 2681.4,1385.1 2684.3,1284.7 2716.7,1284.7 2719.6,1385.1 2722.5,1385.1 2725.5,1284.7 2728.4,1284.7 2737.2,1385.1 2763.7,1385.1 2766.6,1284.7 2801.9,1284.7"/>
</g>
<g stroke="#000" stroke-width="2">
<path d="M510.32 1441.80v8.75"/>
<path d="M774.73 1441.80v8.75"/>
<path d="M1042.08 1441.80v8.75"/>
<path d="M1312.36 1441.80v8.75"/>
<path d="M1582.65 1441.80v8.75"/>
<path d="M1847.05 1441.80v8.75"/>
<path d="M2114.40 1441.80v8.75"/>
<path d="M2384.69 1441.80v8.75"/>
<path d="M2654.97 1441.80v8.75"/>
<path d="M405.00 1385.10h-8.75"/>
<path d="M405.00 1184.39h-8.75"/>
<path d="M405.00 983.68h-8.75"/>
<path d="M405.00 782.98h-8.75"/>
<path d="M405.00 582.27h-8.75"/>
<path d="M405.00 381.56h-8.75"/>
</g>
<rect x="405.0" y="194.4" width="2511.0" height="1247.4" fill="none" stroke="#000" stroke-width="2"/>
<text transform="translate(0,1476.10) scale(0.9,1)" y="0" font-size="24.00" fill="#000"><tspan x="518.69 532.58 546.46 560.35">2022</tspan><tspan x="572.99" dy="-2.40" textLength="15.86" lengthAdjust="spacingAndGlyphs">-</tspan><tspan x="588.13 601.70" dy="2.40">01</tspan></text>
<text transform="translate(0,1476.10) scale(0.9,1)" y="0" font-size="24.00" fill="#000"><tspan x="812.47 826.36 840.25 854.14">2022</tspan><tspan x="866.77" dy="-2.40" textLength="15.86" lengthAdjust="spacingAndGlyphs">-</tspan><tspan x="881.92 895.88" dy="2.40">04</tspan></text>
<text transform="translate(0,1476.10) scale(0.9,1)" y="0" font-size="24.00" fill="#000"><tspan x="1109.53 1123.41 1137.30 1151.19">2022</tspan><tspan x="1163.82" dy="-2.40" textLength="15.86" lengthAdjust="spacingAndGlyphs">-</tspan><tspan x="1178.97 1192.85" dy="2.40">07</tspan></text>
<text transform="translate(0,1476.10) scale(0.9,1)" y="0" font-size="24.00" fill="#000"><tspan x="1409.84 1423.73 1437.62 1451.51">2022</tspan><tspan x="1464.14" dy="-2.40" textLength="15.86" lengthAdjust="spacingAndGlyphs">-</tspan><tspan x="1478.96 1493.17" dy="2.40">10</tspan></text>
<text transform="translate(0,1476.10) scale(0.9,1)" y="0" font-size="24.00" fill="#000"><tspan x="1710.16 1724.05 1737.94 1751.90">2023</tspan><tspan x="1764.46" dy="-2.40" textLength="15.86" lengthAdjust="spacingAndGlyphs">-</tspan><tspan x="1779.60 1793.17" dy="2.40">01</tspan></text>
<text transform="translate(0,1476.10) scale(0.9,1)" y="0" font-size="24.00" fill="#000"><tspan x="2003.94 2017.83 2031.72 2045.68">2023</tspan><tspan x="2058.24" dy="-2.40" textLength="15.86" lengthAdjust="spacingAndGlyphs">-</tspan><tspan x="2073.39 2087.35" dy="2.40">04</tspan></text>
<text transform="translate(0,1476.10) scale(0.9,1)" y="0" font-size="24.00" fill="#000"><tspan x="2301.00 2314.89 2328.77 2342.73">2023</tspan><tspan x="2355.30" dy="-2.40" textLength="15.86" lengthAdjust="spacingAndGlyphs">-</tspan><tspan x="2370.44 2384.32" dy="2.40">07</tspan></text>
<text transform="translate(0,1476.10) scale(0.9,1)" y="0" font-size="24.00" fill="#000"><tspan x="2601.31 2615.20 2629.09 2643.05">2023</tspan><tspan x="2655.61" dy="-2.40" textLength="15.86" lengthAdjust="spacingAndGlyphs">-</tspan><tspan x="2670.43 2684.65" dy="2.40">10</tspan></text>
<text transform="translate(0,1476.10) scale(0.9,1)" y="0" font-size="24.00" fill="#000"><tspan x="2901.63 2915.52 2929.41 2943.37">2024</tspan><tspan x="2955.93" dy="-2.40" textLength="15.86" lengthAdjust="spacingAndGlyphs">-</tspan><tspan x="2971.07 2984.64" dy="2.40">01</tspan></text>
<text transform="translate(0,1393.70) scale(0.9,1)" x="375.27 388.89 403.05 416.94" y="0" font-size="24.00" fill="#000">0.00</text>
<text transform="translate(0,1192.99) scale(0.9,1)" x="375.27 388.89 403.05 416.94" y="0" font-size="24.00" fill="#000">0.02</text>
<text transform="translate(0,992.28) scale(0.9,1)" x="375.27 388.89 403.05 417.01" y="0" font-size="24.00" fill="#000">0.04</text>
<text transform="translate(0,791.58) scale(0.9,1)" x="375.27 388.89 403.05 416.86" y="0" font-size="24.00" fill="#000">0.06</text>
<text transform="translate(0,590.87) scale(0.9,1)" x="375.27 388.89 403.05 416.94" y="0" font-size="24.00" fill="#000">0.08</text>
<text transform="translate(0,390.16) scale(0.9,1)" x="375.27 388.89 402.73 416.94" y="0" font-size="24.00" fill="#000">0.10</text>
<text transform="translate(0,178.50) scale(0.9,1)" x="1254.50 1278.34 1294.11 1313.52 1335.62 1355.42 1382.50 1397.06 1418.32 1438.78 1460.62 1480.42 1504.50 1521.29 1547.97 1570.00 1584.58 1605.20 1626.25 1646.66 1668.66 1693.80 1709.58 1727.26 1757.50 1777.14 1792.83 1820.00 1834.56 1855.42 1882.50 1897.06 1918.32 1938.78 1960.62 1985.62 2001.25 2029.37 2042.91 2063.74 2084.57 2105.41 2126.24 2146.57 2167.91 2188.85 2209.37 2230.42 2251.24 2272.07 2292.91 2313.85 2334.57 2355.41 2376.24 2397.07 2418.97" y="0" font-size="37.50" fill="#000">risky index ratio, pct within index: (20220104, 20240220)</text>
<rect x="424.50" y="1208.60" width="472.20" height="214.90" rx="7.5" ry="7.5" fill="#fff" fill-opacity="0.8" stroke="#cccccc" stroke-opacity="0.8" stroke-width="2.5"/>
<path d="M438.75 1236.90h75" stroke="#1f77b4" stroke-width="3.75" stroke-linecap="square" fill="none"/>
<text transform="translate(0,1249.10) scale(0.9,1)" x="607.42 624.20 650.89 672.92 687.49 708.40 730.38 751.21 770.32 791.66 812.49 833.32 859.37 875.00 895.82 916.45 937.49 958.44" y="0" font-size="37.50" fill="#000">ratio_zz1000: 0.04</text>
<path d="M438.75 1287.90h75" stroke="#ff7f0e" stroke-width="3.75" stroke-linecap="square" fill="none"/>
<text transform="translate(0,1300.10) scale(0.9,1)" x="607.42 624.20 650.89 672.92 687.49 708.40 730.38 751.21 770.86 791.66 812.49 838.54 854.17 874.99 895.62 916.66 937.36" y="0" font-size="37.50" fill="#000">ratio_zz500: 0.06</text>
<path d="M438.75 1338.90h75" stroke="#2ca02c" stroke-width="3.75" stroke-linecap="square" fill="none"/>
<text transform="translate(0,1351.10) scale(0.9,1)" x="607.42 624.20 650.89 672.92 687.49 708.40 729.08 751.19 770.94 791.66 812.49 838.54 854.17 874.99 895.62 916.66 937.53" y="0" font-size="37.50" fill="#000">ratio_hs300: 0.05</text>
<path d="M438.75 1389.90h75" stroke="#d62728" stroke-width="3.75" stroke-linecap="square" fill="none"/>
<text transform="translate(0,1402.10) scale(0.9,1)" x="607.42 624.20 650.89 672.92 687.49 708.40 729.57 750.03 777.09 796.87 812.50 833.32 853.95 874.99 895.32" y="0" font-size="37.50" fill="#000">ratio_gei: 0.01</text>
</svg></body></html>
